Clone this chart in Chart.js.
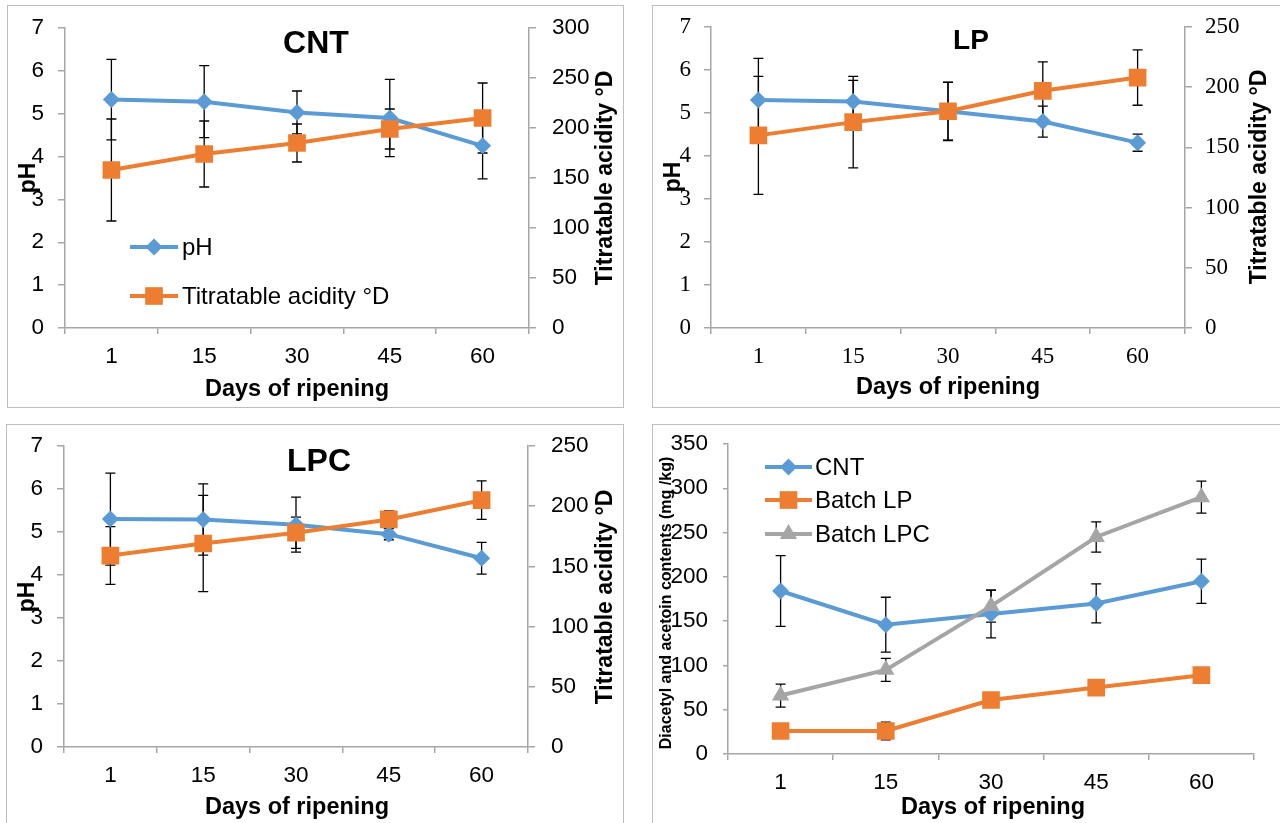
<!DOCTYPE html>
<html>
<head>
<meta charset="utf-8">
<script src="https://cdn.jsdelivr.net/npm/chart.js"></script>
<style>
  html, body { margin: 0; padding: 0; background: #fff; }
  body { width: 1280px; height: 823px; overflow: hidden; position: relative; }
  .panel { position: absolute; outline: 1px solid #bdbdbd; background: #fff; }
  .panel canvas { position: absolute; left: 0; top: 0; }
</style>
</head>
<body>
<div class="panel" style="left:8px;top:6px;width:615px;height:401px"><canvas id="c1" width="615" height="401"></canvas></div>
<div class="panel" style="left:653px;top:6px;width:629px;height:401px"><canvas id="c2" width="629" height="401"></canvas></div>
<div class="panel" style="left:7px;top:425px;width:616px;height:400px"><canvas id="c3" width="616" height="400"></canvas></div>
<div class="panel" style="left:653px;top:425px;width:629px;height:400px"><canvas id="c4" width="629" height="400"></canvas></div>
<script>
// days of ripening
const days = ['1', '15', '30', '45', '60'];

// CNT
const cntPH = [5.33, 5.28, 5.03, 4.9, 4.25];
const cntPHErr = [0.94, 0.84, 0.5, 0.9, 0.77];
const cntTA = [158, 174, 185, 199, 210];
const cntTAErr = [51, 33, 19, 20, 35];

// LP
const lpPH = [5.3, 5.27, 5.04, 4.8, 4.31];
const lpPHErr = [0.97, 0.49, 0.68, 0.36, 0.2];
const lpTA = [160, 171, 180, 197, 208];
const lpTAErr = [49, 38, 24, 24, 23];

// LPC
const lpcPH = [5.3, 5.29, 5.17, 4.95, 4.39];
const lpcPHErr = [1.07, 0.83, 0.64, 0.13, 0.37];
const lpcTA = [159, 169, 178, 189, 205];
const lpcTAErr = [24, 40, 13, 7, 16];

// diacetyl + acetoin (mg/kg)
const daCNT = [184, 146, 158, 170, 195];
const daCNTErr = [40, 31, 27, 22, 25];
const daLP = [26, 26, 61, 75, 89];
const daLPErr = [8, 10, 2, 2, 2];
const daLPC = [66, 95, 167, 245, 290];
const daLPCErr = [13, 13, 18, 17, 18];

const BLUE = '#5B9BD5', ORANGE = '#ED7D31', GREY = '#A5A5A5', AXIS = '#A6A6A6';
const SANS = "'Liberation Sans', Arial, sans-serif";
const SERIF = "'Liberation Serif', 'Times New Roman', serif";

Chart.defaults.font.family = SANS;
Chart.defaults.color = '#000';

const errorBars = {
  id: 'errorBars',
  beforeDatasetsDraw(chart) {
    const ctx = chart.ctx;
    ctx.save();
    ctx.strokeStyle = '#000';
    ctx.lineWidth = 1.3;
    chart.data.datasets.forEach((ds, i) => {
      if (!ds.errors) return;
      const meta = chart.getDatasetMeta(i);
      const sc = chart.scales[meta.yAxisID];
      meta.data.forEach((pt, j) => {
        const top = sc.getPixelForValue(ds.data[j] + ds.errors[j]);
        const bot = sc.getPixelForValue(ds.data[j] - ds.errors[j]);
        ctx.beginPath();
        ctx.moveTo(pt.x, top); ctx.lineTo(pt.x, bot);
        ctx.moveTo(pt.x - 5, top); ctx.lineTo(pt.x + 5, top);
        ctx.moveTo(pt.x - 5, bot); ctx.lineTo(pt.x + 5, bot);
        ctx.stroke();
      });
    });
    ctx.restore();
  }
};

function marker(ctx, style, x, y, r, color) {
  ctx.fillStyle = color;
  ctx.beginPath();
  if (style === 'rectRot') {
    ctx.moveTo(x - r, y); ctx.lineTo(x, y - r); ctx.lineTo(x + r, y); ctx.lineTo(x, y + r);
  } else if (style === 'rect') {
    const s = r * Math.SQRT1_2;
    ctx.rect(x - s, y - s, 2 * s, 2 * s);
  } else {
    ctx.moveTo(x, y - r);
    ctx.lineTo(x + r * 0.866, y + r * 0.5);
    ctx.lineTo(x - r * 0.866, y + r * 0.5);
  }
  ctx.closePath();
  ctx.fill();
}

// legend drawn inside the plot, like the Excel original
function innerLegend(x0, x1, textX, rows) {
  return {
    id: 'innerLegend',
    afterDraw(chart) {
      const ctx = chart.ctx;
      chart.data.datasets.forEach((ds, i) => {
        const y = rows[i];
        ctx.save();
        ctx.strokeStyle = ds.borderColor;
        ctx.lineWidth = 4;
        ctx.beginPath(); ctx.moveTo(x0, y); ctx.lineTo(x1, y); ctx.stroke();
        marker(ctx, ds.pointStyle, (x0 + x1) / 2, y, ds.pointRadius, ds.borderColor);
        ctx.fillStyle = '#000';
        ctx.font = '24px ' + SANS;
        ctx.textAlign = 'left';
        ctx.textBaseline = 'middle';
        ctx.fillText(ds.label, textX, y + 1);
        ctx.restore();
      });
    }
  };
}

function textLayer(items) {
  return {
    id: 'textLayer',
    afterDraw(chart) {
      const ctx = chart.ctx;
      items.forEach(t => {
        ctx.save();
        ctx.font = t.font;
        ctx.fillStyle = '#000';
        ctx.textAlign = 'center';
        ctx.textBaseline = 'middle';
        ctx.translate(t.x, t.y);
        if (t.rot) ctx.rotate(-Math.PI / 2);
        ctx.fillText(t.text, 0, 0);
        ctx.restore();
      });
    }
  };
}

// fixed axis sizes so the plot area lands where the original has it
function yAxis(pos, max, step, width, tl, pad, family, size) {
  return {
    type: 'linear', position: pos, min: 0, max: max,
    ticks: { stepSize: step, padding: pad, font: { size: size, family: family } },
    grid: { drawOnChartArea: false, tickLength: tl, color: AXIS, lineWidth: 1.5 },
    border: { color: AXIS, width: 1.5 },
    afterFit: s => { s.width = width; s.paddingTop = 0; s.paddingBottom = 0; }
  };
}

function xAxis(height, family, size) {
  return {
    type: 'category', offset: true,
    ticks: { padding: 9, maxRotation: 0, autoSkip: false, font: { size: size, family: family } },
    grid: { offset: true, drawOnChartArea: false, tickLength: 6, color: AXIS, lineWidth: 1.5 },
    border: { color: AXIS, width: 1.5 },
    afterFit: s => { s.height = height; s.paddingLeft = 0; s.paddingRight = 0; }
  };
}

function series(label, data, errors, color, style, radius, axis, order) {
  return {
    label, data, errors, yAxisID: axis, order,
    borderColor: color, backgroundColor: color, borderWidth: 4,
    pointStyle: style, pointRadius: radius, pointBorderWidth: 0,
    pointBackgroundColor: color, tension: 0
  };
}

const baseOpts = { responsive: false, animation: false, events: [] };
const noPlugins = { legend: { display: false }, tooltip: { enabled: false } };

function phPanel(id, title, titleFont, ph, phErr, ta, taErr, taMax, geo, family, size, legend) {
  const plugins = [errorBars, textLayer([
    { text: title, x: geo.titleX, y: geo.titleY, font: 'bold ' + titleFont + 'px ' + SANS },
    { text: 'pH', x: 21, y: geo.midY, rot: true, font: 'bold 23px ' + SANS },
    { text: 'Titratable acidity °D', x: geo.rightTitleX, y: geo.midY, rot: true, font: 'bold 23px ' + SANS },
    { text: 'Days of ripening', x: geo.xTitleX, y: geo.xTitleY, font: 'bold 23.5px ' + SANS }
  ])];
  if (legend) plugins.push(legend);
  new Chart(document.getElementById(id), {
    type: 'line',
    data: {
      labels: days,
      datasets: [
        series('pH', ph, phErr, BLUE, 'rectRot', 8.5, 'y', 2),
        series('Titratable acidity °D', ta, taErr, ORANGE, 'rect', 12.5, 'y1', 1)
      ]
    },
    options: {
      ...baseOpts,
      layout: { padding: { top: geo.top, left: 0, right: 0, bottom: 0 } },
      plugins: noPlugins,
      scales: {
        x: xAxis(geo.xh, family, size),
        y: yAxis('left', 7, 1, geo.lw, 7, geo.lpad, family, size),
        y1: yAxis('right', taMax, 50, geo.rw, 7, geo.rpad, family, size)
      }
    },
    plugins
  });
}

phPanel('c1', 'CNT', 32, cntPH, cntPHErr, cntTA, cntTAErr, 300,
  { top: 22, lw: 57, rw: 94, xh: 79, lpad: 14, rpad: 16, titleX: 308, titleY: 38, midY: 172,
    rightTitleX: 598, xTitleX: 289, xTitleY: 384 }, SANS, 22.5,
  innerLegend(122, 170, 174, [241, 290]));

phPanel('c2', 'LP', 28, lpPH, lpPHErr, lpTA, lpTAErr, 250,
  { top: 21, lw: 58, rw: 97, xh: 79, lpad: 13, rpad: 13, titleX: 318, titleY: 35, midY: 171,
    rightTitleX: 607, xTitleX: 295, xTitleY: 382 }, SERIF, 23, null);

phPanel('c3', 'LPC', 32, lpcPH, lpcPHErr, lpcTA, lpcTAErr, 250,
  { top: 21, lw: 57, rw: 95, xh: 78, lpad: 14, rpad: 16, titleX: 312, titleY: 37, midY: 172,
    rightTitleX: 599, xTitleX: 290, xTitleY: 383 }, SANS, 22.5, null);

new Chart(document.getElementById('c4'), {
  type: 'line',
  data: {
    labels: days,
    datasets: [
      series('CNT', daCNT, daCNTErr, BLUE, 'rectRot', 8.5, 'y', 3),
      series('Batch LP', daLP, daLPErr, ORANGE, 'rect', 12.5, 'y', 2),
      series('Batch LPC', daLPC, daLPCErr, GREY, 'triangle', 10, 'y', 1)
    ]
  },
  options: {
    ...baseOpts,
    layout: { padding: { top: 19, left: 0, right: 28, bottom: 0 } },
    plugins: noPlugins,
    scales: {
      x: xAxis(71, SANS, 22.5),
      y: yAxis('left', 350, 50, 75, 5, 15, SANS, 22.5)
    }
  },
  plugins: [errorBars,
    textLayer([
      { text: 'Diacetyl and acetoin contents (mg /kg)', x: 14, y: 178, rot: true, font: 'bold 16px ' + SANS },
      { text: 'Days of ripening', x: 340, y: 383, font: 'bold 23.5px ' + SANS }
    ]),
    innerLegend(112, 159, 162, [42, 75, 109])
  ]
});
</script>
</body>
</html>
